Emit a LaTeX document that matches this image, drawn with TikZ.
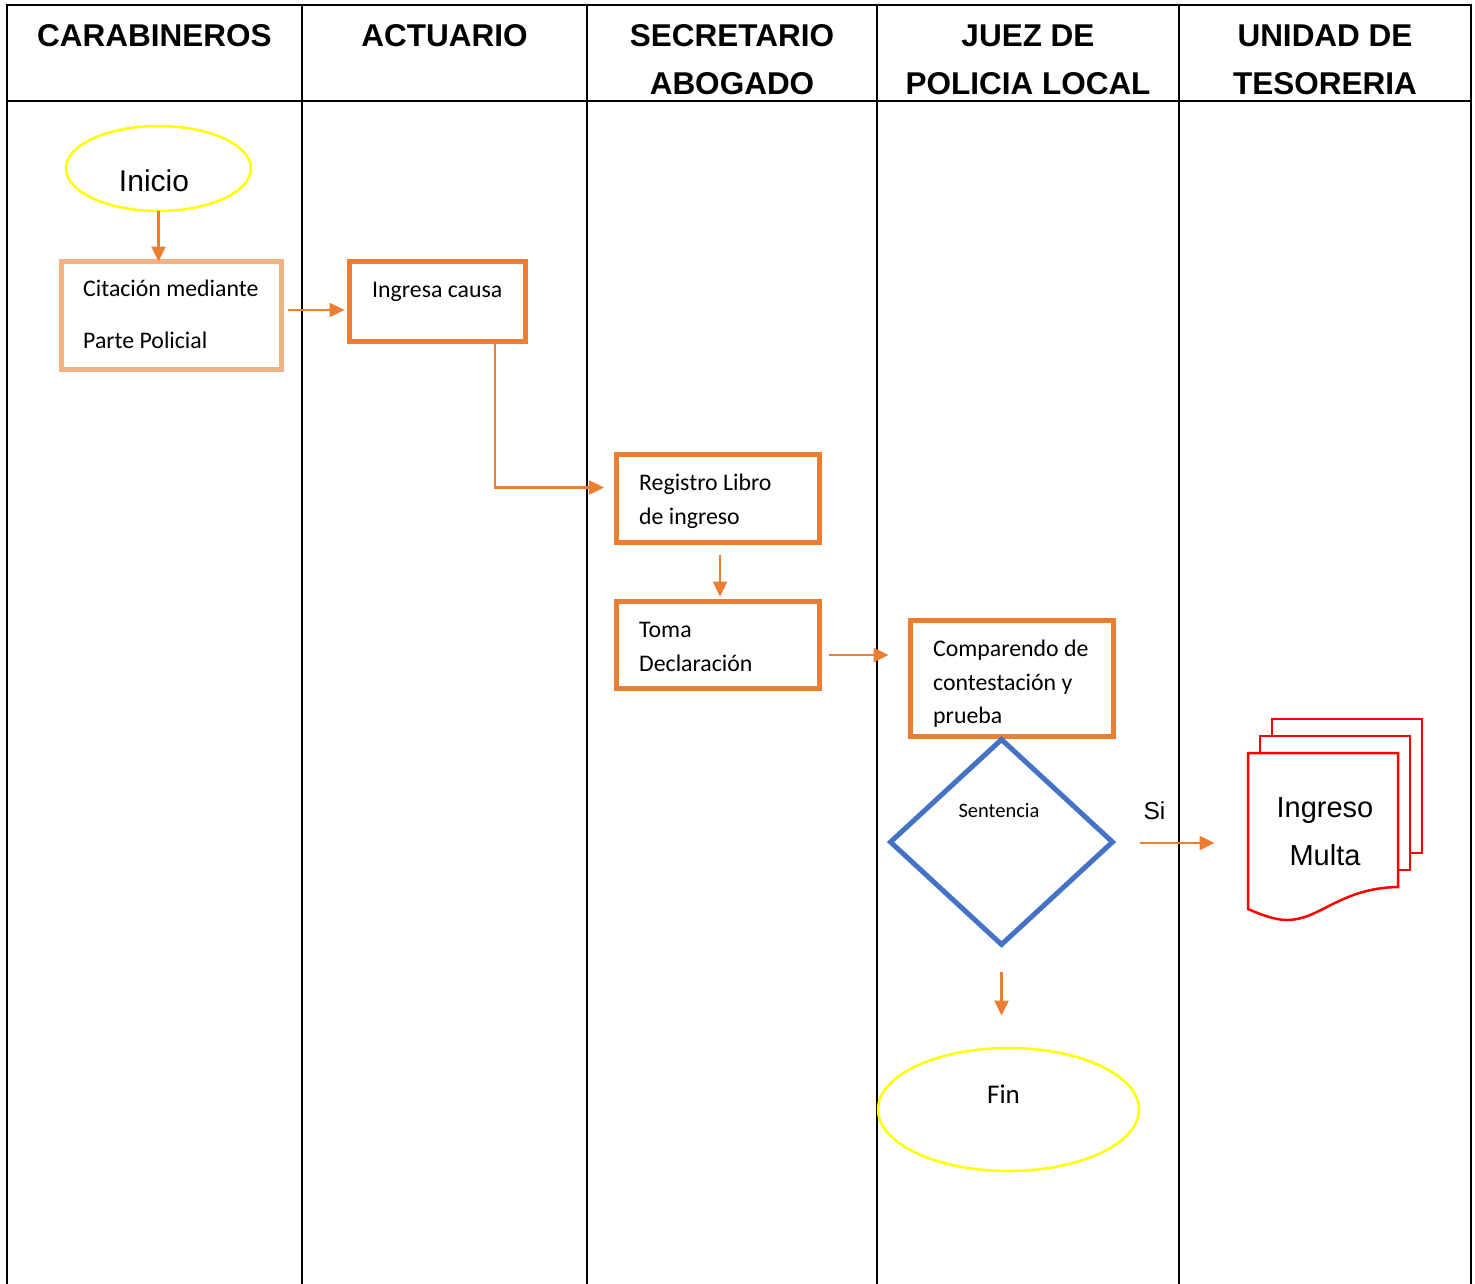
\documentclass[tikz,border=0pt]{standalone}
\usepackage{fontspec}
\setmainfont{Carlito}
\newfontfamily\arial{Liberation Sans}
\usetikzlibrary{shapes.geometric,arrows.meta}
\definecolor{orng}{HTML}{ED7D31}
\definecolor{lorng}{HTML}{F4B183}
\definecolor{blu}{HTML}{4472C4}
\definecolor{yel}{HTML}{FFFF00}
\definecolor{rd}{HTML}{FF0000}
\tikzset{
  grid/.style={line width=2pt, black},
  hdr/.style={font=\arial\bfseries\fontsize{31.5}{48}\selectfont, align=center, anchor=north, inner sep=0pt},
  procbox/.style={draw=orng, line width=5pt, outer sep=0pt, inner sep=0pt, rectangle},
  term/.style={draw=yel, line width=2.5pt, ellipse, outer sep=0pt, inner sep=0pt},
  btxt/.style={font=\fontsize{23.8}{33.5}\selectfont, align=left, inner sep=0pt},
  atxt/.style={font=\arial\fontsize{30}{48}\selectfont, inner sep=0pt},
  arr/.style={draw=orng, line width=2.5pt, -{Triangle[length=15pt,width=14pt]}},
}
\begin{document}
\begin{tikzpicture}[x=1pt,y=-1pt]
\useasboundingbox (0,0) rectangle (1475,1284);
% swimlane table
\draw[grid] (7,5) -- (1471,5);
\draw[grid] (7,101) -- (1471,101);
\foreach \xx in {7,302,587,877,1179,1471} \draw[grid] (\xx,4) -- (\xx,1284);
\node[hdr] (h1) at (154.5,24.5) {CARABINEROS};
\node[hdr] (h2) at (444.5,24.5) {ACTUARIO};
\node[hdr] (h3) at (732,24.5) {SECRETARIO\\ABOGADO};
\node[hdr] (h4) at (1028,24.5) {JUEZ DE\\POLICIA LOCAL};
\node[hdr] (h5) at (1325,24.5) {UNIDAD DE\\TESORERIA};
% terminals
\node[term, minimum width=185pt, minimum height=85pt] (inicio) at (158.5,168.5) {};
\node[atxt, anchor=base] (tinicio) at (154,192) {Inicio};
\node[term, minimum width=261pt, minimum height=123pt] (fin) at (1008.5,1109.5) {};
\node[btxt, font=\fontsize{27}{30}\selectfont, anchor=base] (tfin) at (1003.5,1103) {Fin};
% process boxes
\node[procbox, draw=lorng, minimum width=220pt, minimum height=108pt] (cit) at (171.5,315.5) {};
\node[btxt, anchor=west] (tcit) at (83,314.5) {Citación mediante\\[18pt]Parte Policial};
\node[procbox, minimum width=176pt, minimum height=80pt] (ing) at (437.5,301.5) {};
\node[btxt, anchor=base west] (ting) at (372,297.5) {Ingresa causa};
\node[procbox, minimum width=203pt, minimum height=88pt] (reg) at (718,498.5) {};
\node[btxt, anchor=west] (treg) at (639,501.5) {Registro Libro\\de ingreso};
\node[procbox, minimum width=203pt, minimum height=87pt] (toma) at (718,645) {};
\node[btxt, anchor=west] (ttoma) at (639,647) {Toma\\Declaración};
\node[procbox, minimum width=203pt, minimum height=116pt] (comp) at (1012,678.5) {};
\node[btxt, anchor=west] (tcomp) at (933,684) {Comparendo de\\contestación y\\prueba};
% decision
\node[diamond, draw=blu, line width=5pt, outer sep=0pt, inner sep=0pt, minimum width=222pt, minimum height=205pt] (dec) at (1001.5,842) {};
\node[btxt, font=\fontsize{20.5}{24}\selectfont, anchor=base] (tdec) at (999,817) {Sentencia};
\node[atxt, font=\arial\fontsize{24.5}{30}\selectfont, anchor=base] (tsi) at (1154.5,819) {Si};
% multi-document
\draw[rd, line width=2.5pt, fill=white] (1272,719) rectangle (1422,853);
\draw[rd, line width=2.5pt, fill=white] (1260,736) rectangle (1410,870);
\draw[rd, line width=2.5pt, fill=white] (1248,753) -- (1398,753) -- (1398,887)
  .. controls (1340,888) and (1320,920) .. (1287,920)
  .. controls (1275,920) and (1262,915) .. (1248,909) -- cycle;
\node[atxt, font=\arial\fontsize{29}{48}\selectfont, align=center, anchor=base] (tdoc) at (1325,865) {Ingreso\\Multa};
% connectors
\draw[arr] (inicio.south) -- (inicio.south |- cit.north);
\draw[arr] ([xshift=6pt,yshift=5.5pt]cit.east) -- ++(57,0);
\draw[arr] ([xshift=57.5pt]ing.south) -- ++(0,146) -- ++(109,0);
\draw[arr] ([xshift=2pt,yshift=-12pt]reg.south) -- ++(0,42);
\draw[arr] ([xshift=9pt,yshift=-10pt]toma.east) -- ++(60,0);
\draw[arr] ([xshift=27pt,yshift=-1pt]dec.east) -- ++(75,0);
\draw[arr] ([yshift=-27pt]dec.south) -- ++(0,44);
\end{tikzpicture}
\end{document}
